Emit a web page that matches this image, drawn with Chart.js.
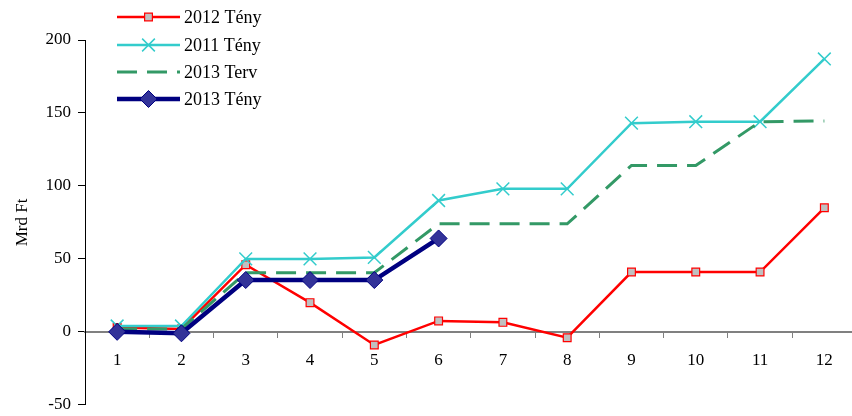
<!DOCTYPE html>
<html>
<head>
<meta charset="utf-8">
<script src="https://cdn.jsdelivr.net/npm/chart.js@4/dist/chart.umd.min.js"></script>
<style>
  html, body { margin: 0; padding: 0; background: #fff; overflow: hidden; }
  canvas { display: block; }
</style>
</head>
<body>
<canvas id="c" width="867" height="422"></canvas>
<script>
// Months of the year (category axis)
const months = ['1', '2', '3', '4', '5', '6', '7', '8', '9', '10', '11', '12'];

// Cumulative values, billion HUF (Mrd Ft)
const teny2012 = [3, 2, 46, 20, -9, 7.5, 6.5, -4, 41, 41, 41, 85];
const teny2011 = [4, 4, 50, 50, 51, 90, 98, 98, 143, 144, 144, 187];
const terv2013 = [2, 2, 40.5, 40.5, 40.5, 74, 74, 74, 114, 114, 144, 144.5];
const teny2013 = [0, -1, 35.5, 35.5, 35.5, 64, null, null, null, null, null, null];

// Value axis ticks
const yTicks = [-50, 0, 50, 100, 150, 200];

const serif = "'Liberation Serif', 'Times New Roman', serif";

// Draws one legend marker in the same style as the series points
function drawMarker(ctx, style, r, x, y) {
  ctx.beginPath();
  if (style === 'rect') {
    const h = Math.SQRT1_2 * r;
    ctx.rect(x - h, y - h, 2 * h, 2 * h);
    ctx.fill(); ctx.stroke();
  } else if (style === 'rectRot') {
    ctx.moveTo(x - r, y); ctx.lineTo(x, y - r); ctx.lineTo(x + r, y); ctx.lineTo(x, y + r);
    ctx.closePath();
    ctx.fill(); ctx.stroke();
  } else if (style === 'crossRot') {
    const o = Math.SQRT1_2 * r;
    ctx.moveTo(x - o, y - o); ctx.lineTo(x + o, y + o);
    ctx.moveTo(x - o, y + o); ctx.lineTo(x + o, y - o);
    ctx.stroke();
  }
}

// Vertical legend in the upper-left corner, overlapping the plot
const cornerLegend = {
  id: 'cornerLegend',
  afterDraw(chart) {
    const ctx = chart.ctx;
    const x0 = 117, x1 = 180, tx = 184;
    const rows = [17, 45, 72, 99];
    chart.data.datasets.forEach((ds, i) => {
      const y = rows[i];
      ctx.save();
      ctx.strokeStyle = ds.borderColor;
      ctx.lineWidth = ds.borderWidth;
      ctx.setLineDash(ds.borderDash || []);
      ctx.beginPath();
      ctx.moveTo(x0, y);
      ctx.lineTo(x1, y);
      ctx.stroke();
      ctx.setLineDash([]);
      if (ds.pointRadius > 0) {
        ctx.fillStyle = ds.pointBackgroundColor;
        ctx.strokeStyle = ds.pointBorderColor;
        ctx.lineWidth = ds.pointBorderWidth;
        drawMarker(ctx, ds.pointStyle, ds.pointRadius, (x0 + x1) / 2, y);
      }
      ctx.fillStyle = '#000';
      ctx.font = '18px ' + serif;
      ctx.textBaseline = 'middle';
      ctx.textAlign = 'left';
      ctx.fillText(ds.label, tx, y + 1);
      ctx.restore();
    });
  }
};

new Chart(document.getElementById('c'), {
  type: 'line',
  data: {
    labels: months,
    datasets: [
      {
        label: '2012 Tény', data: teny2012, order: 4,
        borderColor: '#ff0000', borderWidth: 2.5,
        pointStyle: 'rect', pointRadius: 5.5, pointBorderWidth: 1.2,
        pointBackgroundColor: '#c0c0c0', pointBorderColor: '#ff0000'
      },
      {
        label: '2011 Tény', data: teny2011, order: 3,
        borderColor: '#33cccc', borderWidth: 2.5,
        pointStyle: 'crossRot', pointRadius: 9, pointBorderWidth: 1.5,
        pointBackgroundColor: '#33cccc', pointBorderColor: '#33cccc'
      },
      {
        label: '2013 Terv', data: terv2013, order: 2,
        borderColor: '#339966', borderWidth: 3, borderDash: [20, 10],
        pointRadius: 0, pointBorderWidth: 0,
        pointBackgroundColor: '#339966', pointBorderColor: '#339966'
      },
      {
        label: '2013 Tény', data: teny2013, order: 1,
        borderColor: '#000080', borderWidth: 4.5,
        pointStyle: 'rectRot', pointRadius: 8.5, pointBorderWidth: 1,
        pointBackgroundColor: '#333399', pointBorderColor: '#000080'
      }
    ]
  },
  options: {
    responsive: false,
    animation: false,
    devicePixelRatio: 1,
    layout: { padding: { left: 0, right: 3, top: 40, bottom: 7 } },
    elements: { line: { tension: 0, fill: false }, point: { hoverRadius: 0 } },
    plugins: { legend: { display: false }, tooltip: { enabled: false } },
    scales: {
      x: {
        type: 'category',
        position: { y: 0 },
        offset: true,
        grid: { offset: true, drawOnChartArea: false, tickLength: 5, color: '#808080', lineWidth: 1 },
        border: { color: '#808080', width: 2 },
        ticks: { font: { family: serif, size: 17 }, color: '#000', padding: 13, maxRotation: 0, autoSkip: false }
      },
      y: {
        min: -50, max: 200,
        afterBuildTicks(s) { s.ticks = yTicks.map(v => ({ value: v })); },
        afterFit(s) { s.width = 85; },
        ticks: { font: { family: serif, size: 17 }, color: '#000', padding: 7 },
        grid: { drawOnChartArea: false, tickLength: 7, color: '#000', lineWidth: 1 },
        border: { color: '#000', width: 1 },
        title: { display: true, text: 'Mrd Ft', font: { family: serif, size: 17 }, color: '#000', padding: { top: 12, bottom: 0 } }
      }
    }
  },
  plugins: [cornerLegend]
});
</script>
</body>
</html>
